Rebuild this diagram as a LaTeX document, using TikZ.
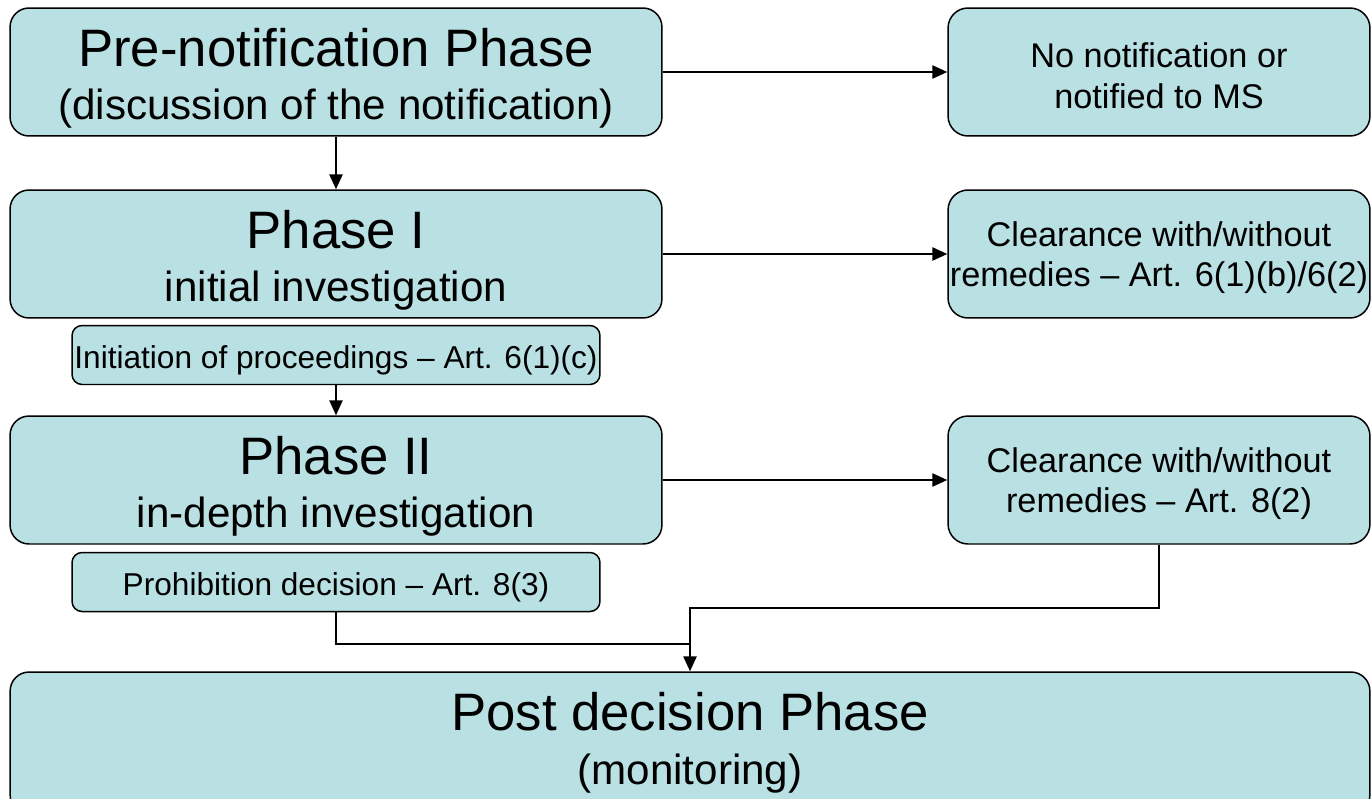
\documentclass[tikz,border=0pt]{standalone}
\usepackage{fontspec}
\setmainfont{Liberation Sans}
\usepackage{tikz}
\usetikzlibrary{arrows.meta,positioning}
\definecolor{boxfill}{RGB}{185,224,227}
\newcommand{\phasetitle}[1]{\rule{0pt}{29pt}{\fontsize{30}{30.6}\selectfont #1}}
\newcommand{\outcomeline}{\rule{0pt}{18.3pt}}
\newcommand{\decisionline}{\rule{0pt}{19.5pt}}

\begin{document}
\begin{tikzpicture}[x = 0.02cm, y = -0.02cm]
	\tikzstyle{every node} = [draw = black, fill = boxfill, line width = 0.85pt, align = center, inner sep = 0pt]
	\tikzstyle{phase} = [rounded corners = 0.38cm, minimum width = 13.04cm, minimum height = 2.56cm, font = \fontsize{24}{30.6}\selectfont]
	\tikzstyle{outcome} = [rounded corners = 0.4cm, minimum width = 8.44cm, minimum height = 2.56cm, font = \fontsize{19.5}{23.2}\selectfont]
	\tikzstyle{decision} = [rounded corners = 0.2cm, minimum width = 10.56cm, minimum height = 1.18cm, font = \fontsize{18}{20}\selectfont]
	\tikzstyle{flow} = [line width = 1.1pt, -{Triangle[length = 8.5pt, width = 7.5pt]}]
\useasboundingbox (0, 0) rectangle (1372, 798);
\node[phase] (0) at (336, 72) {\phasetitle{Pre-notification Phase}\\(discussion of the notification)};
\node[outcome] (1) at (1159, 72) {\outcomeline No notification or\\notified to MS};
\node[phase] (2) at (336, 254) {\phasetitle{Phase I}\\initial investigation};
\node[outcome] (3) at (1159, 254) {\outcomeline Clearance with/without\\remedies -- Art. 6(1)(b)/6(2)};
\node[decision] (4) at (336, 355) {\decisionline Initiation of proceedings -- Art. 6(1)(c)};
\node[phase] (5) at (336, 480) {\phasetitle{Phase II}\\in-depth investigation};
\node[outcome] (6) at (1159, 480) {\outcomeline Clearance with/without\\remedies -- Art. 8(2)};
\node[decision] (7) at (336, 582) {\decisionline Prohibition decision -- Art. 8(3)};
\node[phase, minimum width = 27.2cm, minimum height = 2.84cm] (8) at (690, 743) {{\fontsize{30}{30.6}\selectfont Post decision Phase}\\(monitoring)};
\coordinate (9) at (690, 644);
\coordinate (10) at (690, 608);
	\path[draw, flow] (0) -- (1);
	\path[draw, flow] (0) -- (2);
	\path[draw, flow] (2) -- (3);
	\path[draw, flow] (4) -- (5);
	\path[draw, flow] (5) -- (6);
	\path[draw, line width = 1.1pt] (7.south) |- (9);
	\path[draw, flow] (6.south) |- (10) -- (10 |- 8.north);
\end{tikzpicture}
\end{document}
